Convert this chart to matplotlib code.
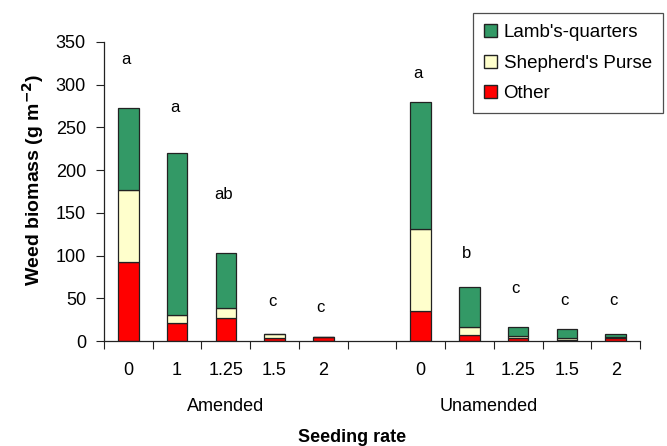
import numpy as np
import matplotlib.pyplot as plt
from matplotlib.patches import Patch

plt.rcParams['font.family'] = ['Liberation Sans', 'DejaVu Sans']

# Data
rates = ['0', '1', '1.25', '1.5', '2']
groups = ['Amended', 'Unamended']

amended_other = [93, 21, 27, 3, 5]
amended_shep = [84, 10, 12, 5, 0]
amended_lamb = [96, 189, 64, 0, 0]

unamended_other = [35, 6.5, 4, 1.5, 4]
unamended_shep = [96, 10, 2, 1.5, 1]
unamended_lamb = [149, 47, 10, 11, 3]

amended_letters = ['a', 'a', 'ab', 'c', 'c']
amended_letter_y = [329, 273, 171, 46, 39]
unamended_letters = ['a', 'b', 'c', 'c', 'c']
unamended_letter_y = [313, 103, 62, 47, 47]

c_lamb = '#339966'
c_shep = '#ffffcc'
c_other = '#ff0000'

fig = plt.figure(figsize=(6.67, 4.46), dpi=100)
ax = fig.add_axes([104/667, 105/446, 536/667, 299/446])

# positions: 5 amended, one empty slot, 5 unamended
pos_a = np.arange(5)
pos_u = np.arange(6, 11)
w = 0.42
ekw = dict(edgecolor='#222222', linewidth=0.9, width=w)

for pos, oth, shp, lmb in [(pos_a, amended_other, amended_shep, amended_lamb),
                           (pos_u, unamended_other, unamended_shep, unamended_lamb)]:
    oth = np.array(oth); shp = np.array(shp); lmb = np.array(lmb)
    ax.bar(pos, oth, color=c_other, **ekw)
    ax.bar(pos, shp, bottom=oth, color=c_shep, **ekw)
    ax.bar(pos, lmb, bottom=oth + shp, color=c_lamb, **ekw)

for pos, lets, ys in [(pos_a, amended_letters, amended_letter_y),
                      (pos_u, unamended_letters, unamended_letter_y)]:
    for x, t, y in zip(pos, lets, ys):
        ax.text(x - 0.05, y, t, ha='center', va='center', fontsize=12)

ax.set_xlim(-0.5, 10.5)
ax.set_ylim(0, 350)
ax.set_yticks(np.arange(0, 351, 50))
ax.set_xticks(np.arange(-0.5, 10.6, 1))
ax.set_xticklabels([])
ax.tick_params(axis='both', direction='out', length=6, width=0.8, color='#222222', labelsize=13)
ax.tick_params(axis='y', pad=7)
for s in ['top', 'right']:
    ax.spines[s].set_visible(False)
for s in ['left', 'bottom']:
    ax.spines[s].set_linewidth(0.9)
    ax.spines[s].set_color('#222222')

# category labels
for pos in (pos_a, pos_u):
    for x, r in zip(pos, rates):
        ax.text(x, -0.097, r, transform=ax.get_xaxis_transform(), ha='center', va='center', fontsize=13)
ax.text(2, -0.22, groups[0], transform=ax.get_xaxis_transform(), ha='center', va='center', fontsize=13)
ax.text(7.4, -0.22, groups[1], transform=ax.get_xaxis_transform(), ha='center', va='center', fontsize=13)

fig.text(352/667, 1 - 438/446, 'Seeding rate', ha='center', va='center', fontsize=13, fontweight='bold')
fig.text(33/667, 1 - 180/446, 'Weed biomass (g m$^{\\mathbf{-2}}$)', ha='center', va='center',
         rotation=90, fontsize=14, fontweight='bold')

handles = [Patch(facecolor=c_lamb, edgecolor='#222222', label="Lamb's-quarters"),
           Patch(facecolor=c_shep, edgecolor='#222222', label="Shepherd's Purse"),
           Patch(facecolor=c_other, edgecolor='#222222', label='Other')]
leg = fig.legend(handles=handles, loc='upper right', bbox_to_anchor=(663/667, 1 - 13/446),
                 fontsize=13.5, frameon=True, fancybox=False, handlelength=0.7, handleheight=0.7,
                 handletextpad=0.35, borderpad=0.6, labelspacing=0.7, borderaxespad=0)
leg.get_frame().set_edgecolor('#222222')
leg.get_frame().set_linewidth(0.9)

fig.savefig('out.png', dpi=100)
